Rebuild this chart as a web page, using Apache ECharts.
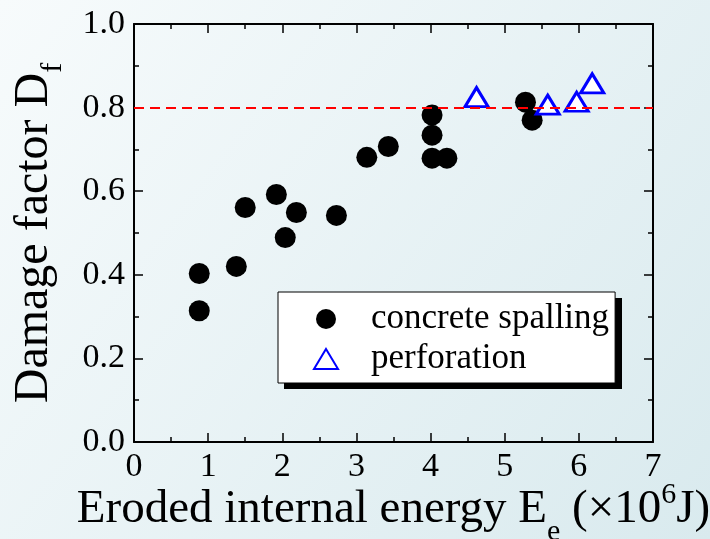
<!DOCTYPE html>
<html>
<head>
<meta charset="utf-8">
<script src="https://cdn.jsdelivr.net/npm/echarts@6/dist/echarts.min.js"></script>
<style>
html,body{margin:0;padding:0;}
#chart{width:710px;height:539px;}
</style>
</head>
<body>
<div id="chart"></div>
<script>
// Data
var spallingX = [0.88, 0.88, 1.38, 1.50, 1.92, 2.04, 2.19, 2.73, 3.14, 3.43, 4.02, 4.02, 4.02, 4.22, 5.28, 5.37];
var spallingY = [0.403, 0.314, 0.420, 0.561, 0.592, 0.489, 0.549, 0.542, 0.681, 0.707, 0.782, 0.734, 0.679, 0.679, 0.813, 0.770];
var perforationX = [4.62, 5.58, 5.97, 6.18];
var perforationY = [0.825, 0.807, 0.814, 0.858];
var thresholdY = 0.8;
var xTicks = [0, 1, 2, 3, 4, 5, 6, 7];
var yTicks = ['0.0', '0.2', '0.4', '0.6', '0.8', '1.0'];
var seriesNames = ['concrete spalling', 'perforation'];

function pairs(xs, ys) { return xs.map(function (x, i) { return [x, ys[i]]; }); }

var FONT = '"Liberation Serif", "Times New Roman", serif';
var chart = echarts.init(document.getElementById('chart'), null, {renderer: 'canvas'});

var axisCommon = {
  axisLine: {show: true, onZero: false, lineStyle: {color: '#000', width: 2}},
  axisTick: {show: true, inside: true, length: 9, lineStyle: {color: '#000', width: 1.5}},
  minorTick: {show: true, splitNumber: 2, length: 5, lineStyle: {color: '#000', width: 1.5}},
  splitLine: {show: false}
};

var option = {
  backgroundColor: {
    type: 'linear', x: 0, y: 0, x2: 1, y2: 1,
    colorStops: [{offset: 0, color: '#f7fbfc'}, {offset: 1, color: '#d9eaee'}]
  },
  animation: false,
  grid: {left: 134, right: 57, top: 24, bottom: 97, containLabel: false, outerBoundsMode: 'none'},
  graphic: [{
    type: 'rect', left: 284, top: 298, z: 3, silent: true,
    shape: {width: 338, height: 91},
    style: {fill: '#000'}
  }],
  legend: {
    orient: 'vertical',
    left: 278, top: 292, z: 10,
    padding: [9, 6, 6, 35],
    itemGap: 4,
    itemWidth: 24, itemHeight: 20,
    backgroundColor: '#fff',
    borderColor: '#000', borderWidth: 1,
    textStyle: {fontFamily: FONT, fontSize: 35, color: '#000', lineHeight: 36, padding: [0, 0, 0, 28]},
    data: seriesNames
  },
  xAxis: [
    Object.assign({}, axisCommon, {
      type: 'value', min: 0, max: 7, interval: 1, position: 'bottom',
      axisLabel: {fontFamily: FONT, fontSize: 34, color: '#000', margin: 8,
        formatter: function (v) { return xTicks.indexOf(v) >= 0 ? String(v) : ''; }},
      name: '{a|Eroded internal energy E}{s|e}{a| (\u00d710}{p|6}{a|J)}',
      nameLocation: 'middle', nameGap: 31, nameMoveOverlap: false,
      nameTextStyle: {
        rich: {
          a: {fontFamily: FONT, fontSize: 47, color: '#000', lineHeight: 74, verticalAlign: 'middle'},
          s: {fontFamily: FONT, fontSize: 30, color: '#000', lineHeight: 14, verticalAlign: 'bottom'},
          p: {fontFamily: FONT, fontSize: 30, color: '#000', lineHeight: 30, verticalAlign: 'middle', padding: [0, 0, 30, 0]}
        }
      }
    }),
    Object.assign({}, axisCommon, {
      type: 'value', min: 0, max: 7, interval: 1, position: 'top',
      axisLabel: {show: false}
    })
  ],
  yAxis: [
    Object.assign({}, axisCommon, {
      type: 'value', min: 0, max: 1, interval: 0.2, position: 'left',
      axisLabel: {fontFamily: FONT, fontSize: 34, color: '#000', margin: 9,
        formatter: function (v) { return yTicks[Math.round(v / 0.2)]; }},
      name: '{a|Damage factor D}{s|f}',
      nameLocation: 'middle', nameGap: 66, nameMoveOverlap: false,
      nameTextStyle: {
        rich: {
          a: {fontFamily: FONT, fontSize: 48, color: '#000', lineHeight: 68, verticalAlign: 'middle'},
          s: {fontFamily: FONT, fontSize: 30, color: '#000', lineHeight: 16, verticalAlign: 'bottom'}
        }
      }
    }),
    Object.assign({}, axisCommon, {
      type: 'value', min: 0, max: 1, interval: 0.2, position: 'right',
      axisLabel: {show: false}
    })
  ],
  series: [
    {
      name: seriesNames[0], type: 'scatter', xAxisIndex: 0, yAxisIndex: 0,
      symbol: 'circle', symbolSize: 21,
      itemStyle: {color: '#000', opacity: 1},
      data: pairs(spallingX, spallingY),
      z: 3,
      markLine: {
        silent: true, symbol: 'none', label: {show: false},
        lineStyle: {color: '#ff0000', type: [10, 6], width: 2},
        data: [{yAxis: thresholdY}]
      }
    },
    {
      name: seriesNames[1], type: 'scatter', xAxisIndex: 0, yAxisIndex: 0,
      symbol: 'triangle', symbolSize: [23, 19],
      itemStyle: {color: '#ffffff', borderColor: '#0000ff', borderWidth: 3, opacity: 1},
      data: pairs(perforationX, perforationY),
      z: 4
    }
  ]
};
chart.setOption(option);
</script>
</body>
</html>
